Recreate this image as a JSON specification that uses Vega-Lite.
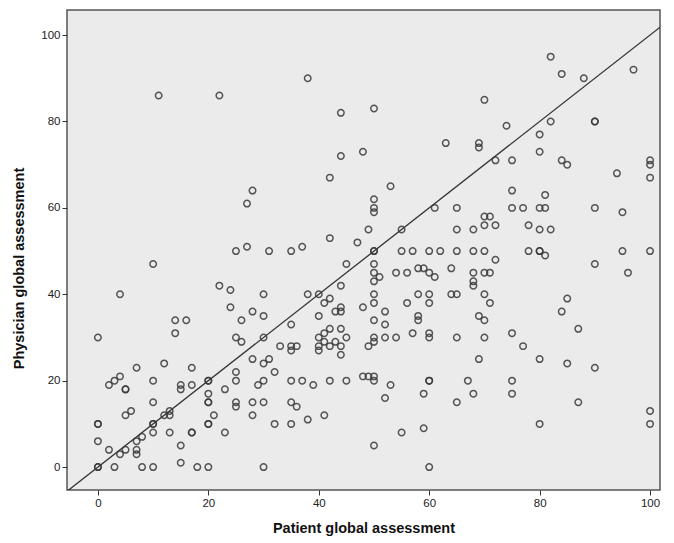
{
  "$schema": "https://vega.github.io/schema/vega-lite/v6.json",
  "autosize": "none",
  "width": 593,
  "height": 480,
  "padding": {"left": 67, "top": 10, "right": 14, "bottom": 53},
  "background": "white",
  "config": {
    "font": "Liberation Sans",
    "view": {"fill": "#EBEBEB", "stroke": "#555555", "strokeWidth": 1.5},
    "axis": {"grid": false, "domain": false, "tickColor": "#333333", "tickSize": 5, "labelFontSize": 11.5, "labelColor": "#222222", "titleFontSize": 14.5, "titleFontWeight": "bold", "titleColor": "#111111"}
  },
  "datasets": {
    "pts": [
      {"patient":11,"physician":86},{"patient":22,"physician":86},{"patient":38,"physician":90},{"patient":44,"physician":82},{"patient":44,"physician":72},{"patient":48,"physician":73},
      {"patient":50,"physician":83},{"patient":70,"physician":85},{"patient":63,"physician":75},{"patient":69,"physician":75},{"patient":69,"physician":74},{"patient":74,"physician":79},{"patient":72,"physician":71},{"patient":75,"physician":71},
      {"patient":82,"physician":95},{"patient":84,"physician":91},{"patient":88,"physician":90},{"patient":97,"physician":92},{"patient":82,"physician":80},{"patient":90,"physician":80},{"patient":90,"physician":80},{"patient":80,"physician":77},{"patient":80,"physician":73},{"patient":84,"physician":71},{"patient":85,"physician":70},{"patient":94,"physician":68},{"patient":100,"physician":71},{"patient":100,"physician":70},
      {"patient":10,"physician":47},{"patient":4,"physician":40},{"patient":22,"physician":42},{"patient":14,"physician":34},{"patient":16,"physician":34},
      {"patient":42,"physician":67},{"patient":28,"physician":64},{"patient":27,"physician":61},{"patient":49,"physician":55},{"patient":42,"physician":53},{"patient":47,"physician":52},{"patient":25,"physician":50},{"patient":27,"physician":51},{"patient":31,"physician":50},{"patient":35,"physician":50},{"patient":37,"physician":51},{"patient":45,"physician":47},{"patient":24,"physician":41},{"patient":30,"physician":40},{"patient":38,"physician":40},{"patient":40,"physician":40},{"patient":44,"physician":42},{"patient":41,"physician":38},{"patient":42,"physician":39},{"patient":24,"physician":37},{"patient":28,"physician":36},{"patient":30,"physician":35},{"patient":26,"physician":34},{"patient":40,"physician":35},{"patient":43,"physician":36},{"patient":44,"physician":36},{"patient":44,"physician":37},{"patient":48,"physician":37},{"patient":35,"physician":33},{"patient":42,"physician":32},{"patient":44,"physician":32},
      {"patient":53,"physician":65},{"patient":75,"physician":64},{"patient":75,"physician":60},{"patient":50,"physician":62},{"patient":50,"physician":60},{"patient":50,"physician":59},{"patient":61,"physician":60},{"patient":65,"physician":60},{"patient":70,"physician":58},{"patient":71,"physician":58},{"patient":70,"physician":56},{"patient":72,"physician":56},{"patient":55,"physician":55},{"patient":65,"physician":55},{"patient":68,"physician":55},{"patient":50,"physician":50},{"patient":50,"physician":50},{"patient":55,"physician":50},{"patient":57,"physician":50},{"patient":60,"physician":50},{"patient":62,"physician":50},{"patient":65,"physician":50},{"patient":68,"physician":50},{"patient":70,"physician":50},{"patient":72,"physician":48},{"patient":50,"physician":47},{"patient":50,"physician":45},{"patient":51,"physician":44},{"patient":50,"physician":43},{"patient":54,"physician":45},{"patient":56,"physician":45},{"patient":58,"physician":46},{"patient":59,"physician":46},{"patient":60,"physician":45},{"patient":61,"physician":44},{"patient":64,"physician":46},{"patient":68,"physician":45},{"patient":68,"physician":43},{"patient":68,"physician":42},{"patient":70,"physician":45},{"patient":71,"physician":45},{"patient":64,"physician":40},{"patient":65,"physician":40},{"patient":58,"physician":40},{"patient":60,"physician":40},{"patient":60,"physician":38},{"patient":56,"physician":38},{"patient":70,"physician":40},{"patient":71,"physician":38},{"patient":50,"physician":40},{"patient":50,"physician":38},{"patient":52,"physician":36},{"patient":50,"physician":34},{"patient":52,"physician":33},{"patient":58,"physician":35},{"patient":58,"physician":34},{"patient":69,"physician":35},{"patient":70,"physician":34},
      {"patient":100,"physician":67},{"patient":81,"physician":63},{"patient":77,"physician":60},{"patient":80,"physician":60},{"patient":81,"physician":60},{"patient":90,"physician":60},{"patient":95,"physician":59},{"patient":78,"physician":56},{"patient":80,"physician":55},{"patient":82,"physician":55},{"patient":78,"physician":50},{"patient":80,"physician":50},{"patient":80,"physician":50},{"patient":81,"physician":49},{"patient":95,"physician":50},{"patient":100,"physician":50},{"patient":90,"physician":47},{"patient":96,"physician":45},{"patient":85,"physician":39},{"patient":84,"physician":36},{"patient":87,"physician":32},
      {"patient":0,"physician":30},{"patient":14,"physician":31},{"patient":2,"physician":19},{"patient":3,"physician":20},{"patient":4,"physician":21},{"patient":7,"physician":23},{"patient":12,"physician":24},{"patient":17,"physician":23},{"patient":5,"physician":18},{"patient":5,"physician":18},{"patient":10,"physician":20},{"patient":15,"physician":19},{"patient":15,"physician":18},{"patient":17,"physician":19},{"patient":20,"physician":20},{"patient":20,"physician":20},{"patient":20,"physician":17},{"patient":20,"physician":15},{"patient":20,"physician":15},{"patient":20,"physician":10},{"patient":20,"physician":10},{"patient":21,"physician":12},{"patient":0,"physician":10},{"patient":0,"physician":10},{"patient":0,"physician":6},{"patient":0,"physician":0},{"patient":0,"physician":0},{"patient":5,"physician":12},{"patient":6,"physician":13},{"patient":10,"physician":15},{"patient":12,"physician":12},{"patient":13,"physician":13},{"patient":13,"physician":12},{"patient":10,"physician":10},{"patient":10,"physician":10},{"patient":10,"physician":8},{"patient":13,"physician":8},{"patient":17,"physician":8},{"patient":17,"physician":8},{"patient":15,"physician":5},{"patient":15,"physician":1},{"patient":2,"physician":4},{"patient":4,"physician":3},{"patient":5,"physician":4},{"patient":7,"physician":6},{"patient":7,"physician":4},{"patient":7,"physician":3},{"patient":8,"physician":7},{"patient":3,"physician":0},{"patient":8,"physician":0},{"patient":10,"physician":0},{"patient":18,"physician":0},{"patient":20,"physician":0},
      {"patient":25,"physician":30},{"patient":26,"physician":29},{"patient":30,"physician":30},{"patient":33,"physician":28},{"patient":35,"physician":28},{"patient":35,"physician":27},{"patient":36,"physician":28},{"patient":40,"physician":30},{"patient":40,"physician":28},{"patient":40,"physician":27},{"patient":41,"physician":31},{"patient":41,"physician":29},{"patient":42,"physician":28},{"patient":43,"physician":29},{"patient":44,"physician":28},{"patient":44,"physician":26},{"patient":45,"physician":30},{"patient":49,"physician":28},{"patient":28,"physician":25},{"patient":30,"physician":24},{"patient":31,"physician":25},{"patient":32,"physician":22},{"patient":25,"physician":22},{"patient":25,"physician":20},{"patient":29,"physician":19},{"patient":30,"physician":20},{"patient":23,"physician":18},{"patient":35,"physician":20},{"patient":37,"physician":20},{"patient":39,"physician":19},{"patient":42,"physician":20},{"patient":45,"physician":20},{"patient":48,"physician":21},{"patient":25,"physician":15},{"patient":25,"physician":14},{"patient":28,"physician":15},{"patient":30,"physician":15},{"patient":35,"physician":15},{"patient":36,"physician":14},{"patient":28,"physician":12},{"patient":32,"physician":10},{"patient":35,"physician":10},{"patient":38,"physician":11},{"patient":41,"physician":12},{"patient":23,"physician":8},{"patient":30,"physician":0},
      {"patient":50,"physician":30},{"patient":50,"physician":29},{"patient":52,"physician":30},{"patient":54,"physician":30},{"patient":57,"physician":31},{"patient":60,"physician":31},{"patient":60,"physician":30},{"patient":65,"physician":30},{"patient":70,"physician":30},{"patient":75,"physician":31},{"patient":69,"physician":25},{"patient":49,"physician":21},{"patient":50,"physician":21},{"patient":50,"physician":20},{"patient":53,"physician":19},{"patient":52,"physician":16},{"patient":60,"physician":20},{"patient":60,"physician":20},{"patient":59,"physician":17},{"patient":67,"physician":20},{"patient":68,"physician":17},{"patient":65,"physician":15},{"patient":75,"physician":20},{"patient":75,"physician":17},{"patient":55,"physician":8},{"patient":59,"physician":9},{"patient":50,"physician":5},{"patient":60,"physician":0},
      {"patient":77,"physician":28},{"patient":80,"physician":25},{"patient":85,"physician":24},{"patient":90,"physician":23},{"patient":87,"physician":15},{"patient":80,"physician":10},{"patient":100,"physician":13},{"patient":100,"physician":10}
    ],
    "ref": [{"v": -8}, {"v": 110}]
  },
  "layer": [
    {
      "data": {"name": "ref"},
      "mark": {"type": "line", "color": "#333333", "strokeWidth": 1.3, "clip": true},
      "encoding": {
        "x": {"field": "v", "type": "quantitative", "scale": {"domain": [-5.6, 101.8], "nice": false, "zero": false}},
        "y": {"field": "v", "type": "quantitative", "scale": {"domain": [-5.3, 105.8], "nice": false, "zero": false}}
      }
    },
    {
      "data": {"name": "pts"},
      "mark": {"type": "point", "shape": "circle", "filled": false, "stroke": "#3a3a3a", "strokeWidth": 1.5, "size": 42, "opacity": 0.85},
      "encoding": {
        "x": {"field": "patient", "type": "quantitative", "title": "Patient global assessment", "scale": {"domain": [-5.6, 101.8], "nice": false, "zero": false}, "axis": {"values": [0, 20, 40, 60, 80, 100], "titlePadding": 13}},
        "y": {"field": "physician", "type": "quantitative", "title": "Physician global assessment", "scale": {"domain": [-5.3, 105.8], "nice": false, "zero": false}, "axis": {"values": [0, 20, 40, 60, 80, 100], "titlePadding": 14, "titleY": 258}}
      }
    }
  ]
}
